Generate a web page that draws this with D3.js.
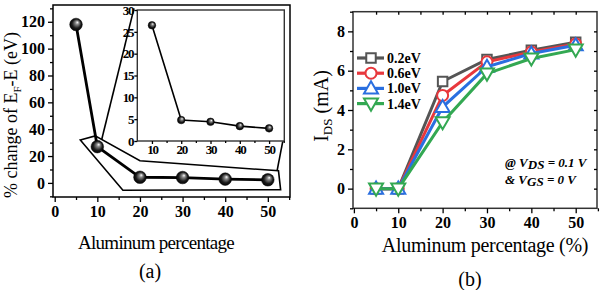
<!DOCTYPE html>
<html>
<head>
<meta charset="utf-8">
<script src="https://cdn.jsdelivr.net/npm/d3@7"></script>
<style>
  body { margin: 0; background: #fff; }
  svg { display: block; }
  svg text { font-family: "Liberation Serif", "Times New Roman", "DejaVu Serif", serif; }
</style>
</head>
<body>
<svg id="chart" width="602" height="290"></svg>
<script>
// Panel (a): % change of EF-E vs Al percentage
const alMain = [5, 10, 20, 30, 40, 50];
const changeMain = [118, 27, 4.2, 4, 2.8, 2.3];
const alInset = [10, 20, 30, 40, 50];
const changeInset = [26.5, 4.8, 4.4, 3.4, 2.9];
// zoom box drawn around the low points, in data units
const zoomBox = [[6, 32], [9.5, 35], [20, 16.5], [52.5, 9], [53, -5], [16, -5.5]];

// Panel (b): IDS vs Al percentage
const alB = [5, 10, 20, 30, 40, 50];
const seriesNames = ['0.2eV', '0.6eV', '1.0eV', '1.4eV'];
const ids02 = [0, 0, 5.45, 6.57, 7.04, 7.45];
const ids06 = [0, 0, 4.74, 6.45, 6.95, 7.36];
const ids10 = [0, 0, 4.15, 6.2, 6.87, 7.29];
const ids14 = [0, 0, 3.38, 5.85, 6.62, 7.07];

(function() {
    const svg = d3.select('#chart');

    const defs = svg.append('defs');
    const grad = defs.append('radialGradient')
        .attr('id', 'ball')
        .attr('cx', '50%').attr('cy', '50%').attr('r', '55%')
        .attr('fx', '62%').attr('fy', '32%');
    grad.append('stop').attr('offset', '0%').attr('stop-color', '#ffffff');
    grad.append('stop').attr('offset', '25%').attr('stop-color', '#8a8a8a');
    grad.append('stop').attr('offset', '65%').attr('stop-color', '#1a1a1a');
    grad.append('stop').attr('offset', '100%').attr('stop-color', '#000');

    function styleAxis(sel, fs) {
        sel.select('.domain').remove();
        sel.selectAll('line').attr('stroke', '#000').attr('stroke-width', 1.3);
        sel.selectAll('text')
            .attr('fill', '#000')
            .attr('font-family', null)
            .attr('font-weight', 'bold')
            .attr('font-size', fs);
    }

    // ---------------- panel (a) ----------------
    const xA = d3.scaleLinear().domain([-0.4, 55.2]).range([53, 290]);
    const yA = d3.scaleLinear().domain([-10.5, 132.5]).range([197, 5]);

    // frame
    svg.append('rect')
        .attr('x', 53).attr('y', 5)
        .attr('width', 237).attr('height', 192)
        .attr('fill', 'none').attr('stroke', '#000').attr('stroke-width', 1.5);

    const axLeftA = svg.append('g').attr('transform', 'translate(53,0)')
        .call(d3.axisLeft(yA).tickValues(d3.range(0, 121, 20)).tickSize(5).tickPadding(3));
    styleAxis(axLeftA, 16);
    svg.append('g').attr('transform', 'translate(53,0)')
        .call(d3.axisLeft(yA).tickValues(d3.range(-10, 131, 20)).tickSize(3).tickFormat(''))
        .call(g => styleAxis(g, 16));

    const axBotA = svg.append('g').attr('transform', 'translate(0,197)')
        .call(d3.axisBottom(xA).tickValues(d3.range(0, 51, 10)).tickSize(5).tickPadding(4));
    styleAxis(axBotA, 16);
    svg.append('g').attr('transform', 'translate(0,197)')
        .call(d3.axisBottom(xA).tickValues(d3.range(5, 56, 10)).tickSize(3).tickFormat(''))
        .call(g => styleAxis(g, 16));

    // zoom box and connectors
    svg.append('path')
        .attr('d', d3.line().x(d => xA(d[0])).y(d => yA(d[1])).curve(d3.curveLinearClosed)(zoomBox))
        .attr('fill', 'none').attr('stroke', '#000').attr('stroke-width', 1.6);
    svg.append('line')
        .attr('x1', xA(11)).attr('y1', yA(32))
        .attr('x2', xA(18.6)).attr('y2', yA(130))
        .attr('stroke', '#000').attr('stroke-width', 1.6);
    svg.append('line')
        .attr('x1', xA(52.2)).attr('y1', yA(9.5))
        .attr('x2', xA(53.5)).attr('y2', yA(31))
        .attr('stroke', '#000').attr('stroke-width', 1.6);

    // main series
    const ptsA = alMain.map((x, i) => [x, changeMain[i]]);
    svg.append('path')
        .attr('d', d3.line().x(d => xA(d[0])).y(d => yA(d[1]))(ptsA))
        .attr('fill', 'none').attr('stroke', '#000').attr('stroke-width', 2.8);
    svg.selectAll('.ballA').data(ptsA).join('circle')
        .attr('class', 'ballA')
        .attr('cx', d => xA(d[0])).attr('cy', d => yA(d[1]))
        .attr('r', 6.3).attr('fill', 'url(#ball)').attr('stroke', '#000').attr('stroke-width', 0.5);

    // inset
    const xI = d3.scaleLinear().domain([5, 55.2]).range([137.3, 284.3]);
    const yI = d3.scaleLinear().domain([0, 30]).range([141, 10]);
    svg.append('rect')
        .attr('x', 137.3).attr('y', 10)
        .attr('width', 147).attr('height', 131)
        .attr('fill', '#fff').attr('stroke', '#333').attr('stroke-width', 1.4);

    const axLeftI = svg.append('g').attr('transform', 'translate(137.3,0)')
        .call(d3.axisLeft(yI).tickValues(d3.range(0, 31, 5)).tickSize(3).tickPadding(1));
    styleAxis(axLeftI, 13);
    axLeftI.selectAll('text').attr('letter-spacing', -1.2);
    const axBotI = svg.append('g').attr('transform', 'translate(0,141)')
        .call(d3.axisBottom(xI).tickValues(d3.range(10, 51, 10)).tickSize(3).tickPadding(1));
    styleAxis(axBotI, 13);
    axBotI.selectAll('text').attr('letter-spacing', -1.2);
    svg.append('g').attr('transform', 'translate(0,141)')
        .call(d3.axisBottom(xI).tickValues(d3.range(15, 56, 10)).tickSize(2).tickFormat(''))
        .call(g => styleAxis(g, 13));

    const ptsI = alInset.map((x, i) => [x, changeInset[i]]);
    svg.append('path')
        .attr('d', d3.line().x(d => xI(d[0])).y(d => yI(d[1]))(ptsI))
        .attr('fill', 'none').attr('stroke', '#000').attr('stroke-width', 1.6);
    svg.selectAll('.ballI').data(ptsI).join('circle')
        .attr('class', 'ballI')
        .attr('cx', d => xI(d[0])).attr('cy', d => yI(d[1]))
        .attr('r', 3.8).attr('fill', 'url(#ball)').attr('stroke', '#000').attr('stroke-width', 0.5);

    // labels (a)
    const yLabA = svg.append('text')
        .attr('transform', 'translate(17,115) rotate(-90)')
        .attr('text-anchor', 'middle')
        .attr('font-size', 18).attr('fill', '#000');
    yLabA.append('tspan').text('% change of E');
    yLabA.append('tspan').attr('font-size', 11).attr('dy', 4).text('F');
    yLabA.append('tspan').attr('dy', -4).text('-E (eV)');

    svg.append('text')
        .attr('x', 156).attr('y', 249)
        .attr('text-anchor', 'middle')
        .attr('font-size', 19).attr('letter-spacing', -0.7).attr('fill', '#000')
        .text('Aluminum percentage');
    svg.append('text')
        .attr('x', 150).attr('y', 278)
        .attr('text-anchor', 'middle')
        .attr('font-size', 20).attr('fill', '#000')
        .text('(a)');

    // ---------------- panel (b) ----------------
    const xB = d3.scaleLinear().domain([-0.2, 54.8]).range([353, 597]);
    const yB = d3.scaleLinear().domain([-1, 9]).range([208.3, 11.7]);

    svg.append('rect')
        .attr('x', 353).attr('y', 11.7)
        .attr('width', 244).attr('height', 196.6)
        .attr('fill', 'none').attr('stroke', '#333').attr('stroke-width', 1.5);

    const axLeftB = svg.append('g').attr('transform', 'translate(353,0)')
        .call(d3.axisLeft(yB).tickValues(d3.range(0, 9, 2)).tickSize(5).tickPadding(3));
    styleAxis(axLeftB, 16);
    svg.append('g').attr('transform', 'translate(353,0)')
        .call(d3.axisLeft(yB).tickValues(d3.range(-1, 10, 2)).tickSize(3).tickFormat(''))
        .call(g => styleAxis(g, 16));
    svg.append('g').attr('transform', 'translate(597,0)')
        .call(d3.axisLeft(yB).tickValues(d3.range(0, 9, 1)).tickSize(3).tickFormat(''))
        .call(g => styleAxis(g, 16));

    const axBotB = svg.append('g').attr('transform', 'translate(0,208.3)')
        .call(d3.axisBottom(xB).tickValues(d3.range(0, 51, 10)).tickSize(5).tickPadding(3));
    styleAxis(axBotB, 16);
    svg.append('g').attr('transform', 'translate(0,208.3)')
        .call(d3.axisBottom(xB).tickValues(d3.range(5, 56, 10)).tickSize(3).tickFormat(''))
        .call(g => styleAxis(g, 16));
    svg.append('g').attr('transform', 'translate(0,11.7)')
        .call(d3.axisBottom(xB).tickValues(d3.range(5, 51, 5)).tickSize(3).tickFormat(''))
        .call(g => styleAxis(g, 16));

    const colors = ['#555555', '#e8383d', '#2a6fe0', '#33a852'];
    const shapes = [d3.symbolSquare, d3.symbolCircle, d3.symbolTriangle, d3.symbolTriangle];
    const sizes = [90, 95, 85, 85];
    const rotations = [0, 0, 0, 180];
    const allIds = [ids02, ids06, ids10, ids14];

    allIds.forEach((vals, s) => {
        const pts = alB.map((x, i) => [x, vals[i]]);
        svg.append('path')
            .attr('d', d3.line().x(d => xB(d[0])).y(d => yB(d[1]))(pts))
            .attr('fill', 'none').attr('stroke', colors[s]).attr('stroke-width', 3);
        svg.selectAll('.m' + s).data(pts).join('path')
            .attr('class', 'm' + s)
            .attr('d', d3.symbol().type(shapes[s]).size(sizes[s]))
            .attr('transform', d => `translate(${xB(d[0])},${yB(d[1]) + (s === 3 ? -1 : s === 2 ? 1 : 0)}) rotate(${rotations[s]})`)
            .attr('fill', '#fff').attr('stroke', colors[s]).attr('stroke-width', 2);
    });

    // legend
    const legend = svg.append('g').attr('transform', 'translate(357,58)');
    seriesNames.forEach((name, s) => {
        const y = s * 15.2;
        legend.append('line')
            .attr('x1', 0).attr('x2', 27).attr('y1', y).attr('y2', y)
            .attr('stroke', colors[s]).attr('stroke-width', 3.2);
        legend.append('path')
            .attr('d', d3.symbol().type(shapes[s]).size(sizes[s]))
            .attr('transform', `translate(14,${y + (s === 3 ? -1 : s === 2 ? 1 : 0)}) rotate(${rotations[s]})`)
            .attr('fill', '#fff').attr('stroke', colors[s]).attr('stroke-width', 2);
        legend.append('text')
            .attr('x', 30).attr('y', y)
            .attr('dy', '0.35em')
            .attr('font-size', 14).attr('font-weight', 'bold').attr('fill', '#000')
            .text(name);
    });

    // condition note
    const note1 = svg.append('text')
        .attr('x', 505).attr('y', 167)
        .attr('font-size', 13).attr('font-weight', 'bold').attr('font-style', 'italic').attr('fill', '#000');
    note1.append('tspan').text('@ V');
    note1.append('tspan').attr('dy', 2).text('DS');
    note1.append('tspan').attr('dy', -2).text(' = 0.1 V');
    const note2 = svg.append('text')
        .attr('x', 505).attr('y', 184)
        .attr('font-size', 13).attr('font-weight', 'bold').attr('font-style', 'italic').attr('fill', '#000');
    note2.append('tspan').text('& V');
    note2.append('tspan').attr('dy', 2).text('GS');
    note2.append('tspan').attr('dy', -2).text(' = 0 V');

    // labels (b)
    const yLabB = svg.append('text')
        .attr('transform', 'translate(328,106) rotate(-90)')
        .attr('text-anchor', 'middle')
        .attr('font-size', 20).attr('fill', '#000');
    yLabB.append('tspan').text('I');
    yLabB.append('tspan').attr('font-size', 13).attr('dy', 4).text('DS');
    yLabB.append('tspan').attr('dy', -4).text(' (mA)');

    svg.append('text')
        .attr('x', 485).attr('y', 252)
        .attr('text-anchor', 'middle')
        .attr('font-size', 20).attr('letter-spacing', -0.3).attr('fill', '#000')
        .text('Aluminum percentage (%)');
    svg.append('text')
        .attr('x', 470).attr('y', 286)
        .attr('text-anchor', 'middle')
        .attr('font-size', 20).attr('fill', '#000')
        .text('(b)');
})();
</script>
</body>
</html>
